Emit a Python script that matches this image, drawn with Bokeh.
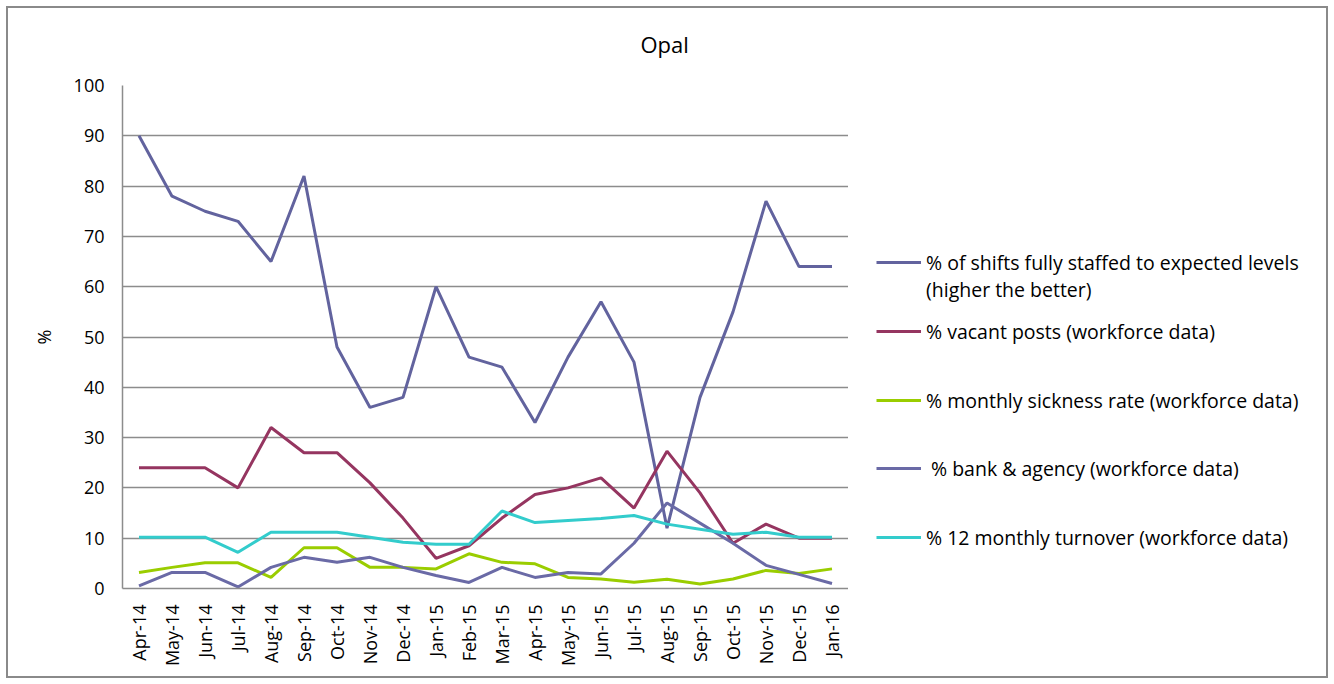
import math
from bokeh.plotting import figure
from bokeh.layouts import row
from bokeh.models import FactorRange, Range1d, Legend, LegendItem
from bokeh.embed import file_html
from bokeh.resources import INLINE

months = ["Apr-14", "May-14", "Jun-14", "Jul-14", "Aug-14", "Sep-14", "Oct-14", "Nov-14",
          "Dec-14", "Jan-15", "Feb-15", "Mar-15", "Apr-15", "May-15", "Jun-15", "Jul-15",
          "Aug-15", "Sep-15", "Oct-15", "Nov-15", "Dec-15", "Jan-16"]

shifts_full = [90, 78, 75, 73, 65, 82, 48, 36, 38, 60, 46, 44, 33, 46, 57, 45, 12, 38, 55, 77, 64, 64]
vacant = [24, 24, 24, 20, 32, 27, 27, 21, 14, 6, 8.5, 14, 18.7, 20, 22, 16, 27.3, 19, 9, 12.8, 10, 10]
sickness = [3.2, 4.2, 5.1, 5.1, 2.2, 8.1, 8.1, 4.2, 4.2, 3.9, 6.9, 5.2, 4.9, 2.2, 1.9, 1.25, 1.85, 0.9, 1.9, 3.6, 3.0, 3.9]
bank_agency = [0.5, 3.2, 3.2, 0.3, 4.2, 6.2, 5.2, 6.2, 4.2, 2.6, 1.2, 4.2, 2.2, 3.2, 2.9, 9.0, 17.0, 13.0, 9.0, 4.6, 2.8, 1.0]
turnover = [10.2, 10.2, 10.2, 7.2, 11.2, 11.2, 11.2, 10.2, 9.2, 8.8, 8.8, 15.4, 13.1, 13.5, 13.9, 14.5, 12.8, 11.8, 10.8, 11.2, 10.2, 10.2]

labels = ["% of shifts fully staffed to expected levels",
          "(higher the better)",
          "% vacant posts (workforce data)",
          "% monthly sickness rate (workforce data)",
          "% bank & agency (workforce data)",
          "% 12 monthly turnover (workforce data)"]

FONT = "Open Sans"
GRID = "#8C8C8C"
colors = ["#62639E", "#953560", "#9ACD00", "#6A6AA6", "#33CCCC"]

# ---- main chart ----
p = figure(x_range=FactorRange(*months), y_range=Range1d(0, 100),
           width=848, height=684, output_backend="svg", toolbar_location=None,
           min_border_left=122, min_border_right=0, min_border_top=83, min_border_bottom=96,
           title="Opal")
p.border_fill_color = None
p.background_fill_color = "#ffffff"

p.title.align = "left"
p.title.offset = 518
p.title.text_font = FONT
p.title.text_font_size = "22px"
p.title.text_font_style = "normal"
p.title.text_color = "#000000"
p.title.standoff = 53

p.outline_line_color = None
p.xgrid.grid_line_color = None
p.ygrid.grid_line_color = GRID
p.ygrid.grid_line_width = 1.5

p.yaxis.ticker = list(range(0, 101, 10))
p.yaxis.axis_label = "%"
for ax in (p.xaxis[0], p.yaxis[0]):
    ax.axis_line_color = GRID
    ax.axis_line_width = 1.5
    ax.major_tick_line_color = None
    ax.minor_tick_line_color = None
    ax.major_tick_out = 0
    ax.major_tick_in = 0
    ax.major_label_text_font = FONT
    ax.major_label_text_font_size = "18px"
    ax.major_label_text_color = "#000000"
p.yaxis.major_label_standoff = 18
p.yaxis.axis_label_text_font = FONT
p.yaxis.axis_label_text_font_size = "18px"
p.yaxis.axis_label_text_font_style = "normal"
p.yaxis.axis_label_text_color = "#000000"
p.yaxis.axis_label_standoff = 15
p.xaxis.major_label_orientation = math.pi / 2
p.xaxis.major_label_standoff = 16

series = [shifts_full, vacant, sickness, bank_agency, turnover]
for ys, c in zip(series, colors):
    p.line(months, ys, line_color=c, line_width=3)

# ---- legend panel ----
q = figure(width=486, height=684, x_range=Range1d(0, 1), y_range=Range1d(0, 1),
           x_axis_type=None, y_axis_type=None, output_backend="svg", toolbar_location=None,
           min_border=0)
q.border_fill_color = None
q.background_fill_color = None
q.outline_line_color = None
q.xgrid.grid_line_color = None
q.ygrid.grid_line_color = None

# key renderers whose data lie outside the visible range (only their legend glyphs show)
keys = [q.line([5, 6], [5, 6], line_color=c, line_width=3) for c in colors]
blank = q.line([5, 6], [5, 6], line_color="#ffffff", line_alpha=0, line_width=3)

row_items = [(labels[0], keys[0], 262, 5), (labels[1], blank, 289, 5),
             (labels[2], keys[1], 331, 5), (labels[3], keys[2], 400, 5),
             (labels[4], keys[3], 468, 10), (labels[5], keys[4], 537, 5)]
for text, r, yc, standoff in row_items:
    lg = Legend(items=[LegendItem(label=text, renderers=[r])],
                location=(28, 573 - yc), padding=0, margin=0,
                border_line_color=None, background_fill_alpha=0,
                glyph_width=45, glyph_height=30, label_height=30,
                label_standoff=standoff, label_text_font=FONT,
                label_text_font_size="19.5px", label_text_color="#000000")
    q.add_layout(lg, "center")

layout = row(p, q, spacing=0)
layout.styles = {"outline": "2px solid #8a8a8a", "outline-offset": "-8px"}

open("out.html", "w").write(file_html(layout, INLINE))
